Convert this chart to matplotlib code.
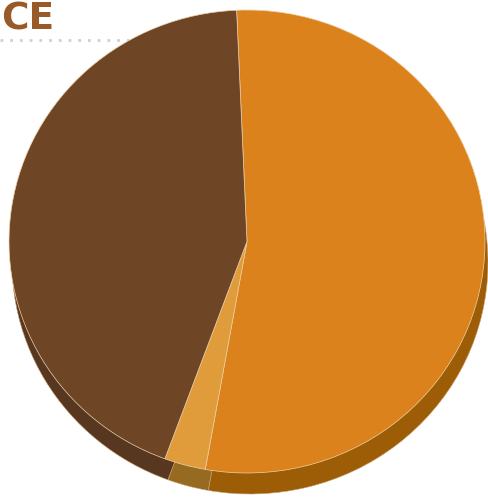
import matplotlib.pyplot as plt

# slice shares (percent), clockwise from the top
labels = ["A", "B", "C"]
shares = [53.5, 2.8, 43.7]
top_colors = ["#DC821C", "#E09B3A", "#6E4625"]
side_colors = ["#9C5D06", "#976A22", "#573720"]

fig = plt.figure(figsize=(4.88, 4.97), dpi=100)
ax = fig.add_axes([0, 0, 1, 1])

# pixel-ish layout: pie centre at (247, 241), rx 238, ry 231.5
rx, ry = 238.0, 231.5
cx, cy = 247.0, 241.5

# dotted rule under the heading
ax.plot([-cx / rx, (200 - cx) / rx], [(cy - 40) / ry] * 2, linestyle=(0, (1, 2.5)),
        color="#D0D0D0", linewidth=2, zorder=0)

# side of the disc: same pie, darker, shifted down
ax.pie(shares, colors=side_colors, startangle=92.5, counterclock=False,
       center=(3 / rx, -21 / ry), radius=1.0, frame=True,
       wedgeprops=dict(edgecolor="#C9A070", linewidth=0.4))
# top face
ax.pie(shares, colors=top_colors, startangle=92.5, counterclock=False,
       center=(0, 0), radius=1.0, frame=True,
       wedgeprops=dict(edgecolor="#F0D2A8", linewidth=0.5))

ax.set_xlim(-cx / rx, (488 - cx) / rx)
ax.set_ylim(-(497 - cy) / ry, cy / ry)
ax.set_aspect("auto")
ax.axis("off")

# heading in the top-left corner
fig.text(1 / 488, 1 - 29 / 497, "CE", ha="left", va="baseline",
         fontsize=27, fontweight="heavy", color="#9A5A28",
         family="DejaVu Sans")

fig.savefig("out.png", dpi=100)
